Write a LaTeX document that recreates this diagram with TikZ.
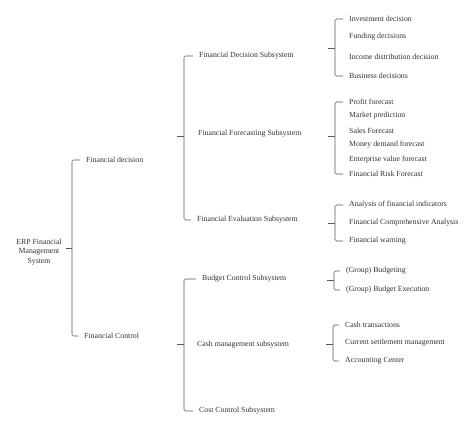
\documentclass[tikz,border=0pt]{standalone}
\usepackage{fontspec}
\setmainfont{Liberation Serif}
\tikzset{
    lbl/.style={anchor=west, inner xsep=6pt, inner ysep=2pt, text=black!80, font=\fontsize{7.8}{9.6}\selectfont},
    brk/.style={draw=black!65, line width=0.55pt, rounded corners=1.5pt}
}
\begin{document}
\begin{tikzpicture}[x=1pt, y=-1pt]
        \useasboundingbox[fill=white] (0,0) rectangle (474,433);

        % root and first level
        \node[lbl, anchor=center, align=center, inner xsep=2pt] (erp) at (39,252) {ERP Financial\\Management\\System};
        \node[lbl] (fdec) at (80,160) {Financial decision};
        \node[lbl] (fctl) at (78,336) {Financial Control};
        \coordinate (b1) at (72,248);
        \draw[brk] (fdec.west) -| (b1) |- (fctl.west);
        \draw[brk] (b1) -- ++(-6,0);

        % subsystems
        \node[lbl] (sdec) at (193,56) {Financial Decision Subsystem};
        \node[lbl] (sfor) at (192,134) {Financial Forecasting Subsystem};
        \node[lbl] (seva) at (191,220) {Financial Evaluation Subsystem};
        \coordinate (b2) at (184,136);
        \draw[brk] (sdec.west) -| (b2) |- (seva.west);
        \draw[brk] (b2) -- ++(-7,0);

        \node[lbl] (sbud) at (196,279) {Budget Control Subsystem};
        \node[lbl] (scsh) at (191,345) {Cash management subsystem};
        \node[lbl] (scst) at (193,411) {Cost Control Subsystem};
        \coordinate (b6) at (184,344);
        \draw[brk] (sbud.west) -| (b6) |- (scst.west);
        \draw[brk] (b6) -- ++(-7,0);

        % decision items
        \node[lbl] (inv) at (343,19) {Investment decision};
        \node[lbl] (fun) at (343,37) {Funding decisions};
        \node[lbl] (inc) at (343,57) {Income distribution decision};
        \node[lbl] (bus) at (343,76) {Business decisions};
        \coordinate (b3) at (335,48);
        \draw[brk] (inv.west) -| (b3) |- (bus.west);
        \draw[brk] (b3) -- ++(-7,0);

        % forecasting items
        \node[lbl] (pro) at (343,102) {Profit forecast};
        \node[lbl] (mkt) at (343,116) {Market prediction};
        \node[lbl] (sal) at (343,131) {Sales Forecast};
        \node[lbl] (mon) at (343,145) {Money demand forecast};
        \node[lbl] (ent) at (343,160) {Enterprise value forecast};
        \node[lbl] (rsk) at (343,174) {Financial Risk Forecast};
        \coordinate (b4) at (335,136);
        \draw[brk] (pro.west) -| (b4) |- (rsk.west);
        \draw[brk] (b4) -- ++(-7,0);

        % evaluation items
        \node[lbl] (ana) at (343,205) {Analysis of financial indicators};
        \node[lbl] (cmp) at (343,223) {Financial Comprehensive Analysis};
        \node[lbl] (wrn) at (343,241) {Financial warning};
        \coordinate (b5) at (335,223);
        \draw[brk] (ana.west) -| (b5) |- (wrn.west);
        \draw[brk] (b5) -- ++(-7,0);

        % budget items
        \node[lbl] (gbu) at (340,271) {(Group) Budgeting};
        \node[lbl] (gex) at (340,290) {(Group) Budget Execution};
        \coordinate (b7) at (334,280);
        \draw[brk] (gbu.west) -| (b7) |- (gex.west);
        \draw[brk] (b7) -- ++(-7,0);

        % cash items
        \node[lbl] (ctr) at (339,325) {Cash transactions};
        \node[lbl] (cur) at (339,343) {Current settlement management};
        \node[lbl] (acc) at (339,361) {Accounting Center};
        \coordinate (b8) at (333,344);
        \draw[brk] (ctr.west) -| (b8) |- (acc.west);
        \draw[brk] (b8) -- ++(-7,0);
    \end{tikzpicture}
\end{document}
